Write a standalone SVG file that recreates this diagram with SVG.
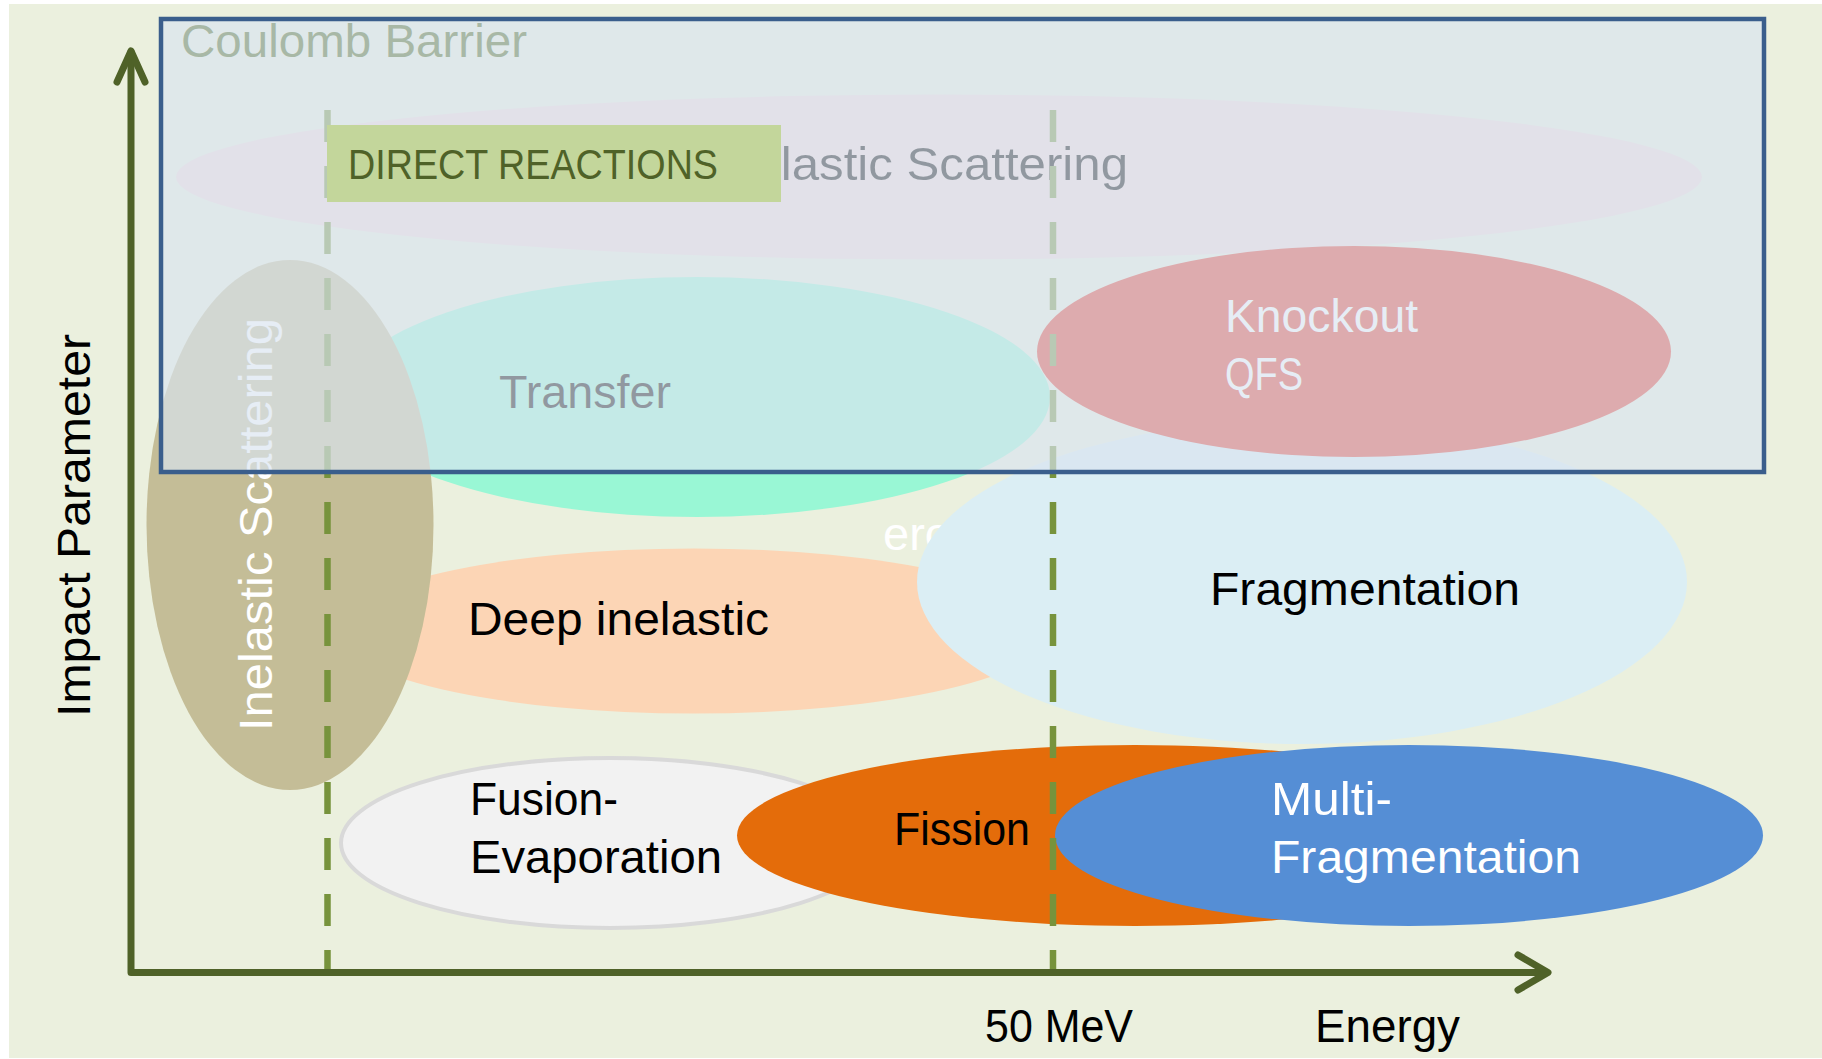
<svg xmlns="http://www.w3.org/2000/svg" width="1822" height="1059" viewBox="0 0 1822 1059">
<defs>
<style>
text{font-family:"Liberation Sans",Arial,sans-serif;}
.t{font-size:47px;fill:#000;}
.w{font-size:47px;fill:#fff;}
.axis{stroke:#4F6228;stroke-width:7;fill:none;stroke-linecap:round;stroke-linejoin:round;}
.dash{stroke:#77933C;stroke-width:6.5;stroke-dasharray:32 24;fill:none;}
</style>
</defs>
<rect x="0" y="0" width="1822" height="1059" fill="#ffffff"/>
<rect x="9" y="4" width="1813" height="1054" fill="#EBF0DE"/>

<g id="elastic-scattering">
<ellipse cx="939" cy="177" rx="763" ry="82.5" fill="#F2DCDB"/>
<text class="t" x="748" y="180" font-size="46" textLength="380" lengthAdjust="spacingAndGlyphs">Elastic Scattering</text>
</g>

<g id="transfer">
<ellipse cx="697" cy="397" rx="353" ry="120" fill="#99F7D5"/>
<text class="t" x="499" y="408" textLength="172" lengthAdjust="spacingAndGlyphs">Transfer</text>
</g>

<g id="deep-inelastic">
<ellipse cx="694" cy="631" rx="357" ry="82.5" fill="#FCD5B5"/>
<text class="t" x="468" y="635" font-size="48" textLength="301" lengthAdjust="spacingAndGlyphs">Deep inelastic</text>
</g>

<text class="w" x="883" y="550" font-size="48">ero</text>

<g id="fragmentation">
<ellipse cx="1302" cy="582" rx="385" ry="162" fill="#DBEEF4"/>
<text class="t" x="1210" y="605" font-size="46" textLength="310" lengthAdjust="spacingAndGlyphs">Fragmentation</text>
</g>

<g id="knockout-qfs">
<ellipse cx="1354" cy="351.5" rx="317" ry="105.5" fill="#E5392A"/>
<text class="w" x="1225" y="332" textLength="193" lengthAdjust="spacingAndGlyphs">Knockout</text>
<text class="w" x="1225" y="390" textLength="78" lengthAdjust="spacingAndGlyphs">QFS</text>
</g>

<g id="fusion-evaporation">
<ellipse cx="610" cy="843" rx="269" ry="85" fill="#F2F2F2" stroke="#D9D9D9" stroke-width="4"/>
<text class="t" x="470" y="815" font-size="45" textLength="148" lengthAdjust="spacingAndGlyphs">Fusion-</text>
<text class="t" x="470" y="873" font-size="45" textLength="252" lengthAdjust="spacingAndGlyphs">Evaporation</text>
</g>

<g id="fission">
<ellipse cx="1135" cy="835.5" rx="398" ry="90.5" fill="#E46C0A"/>
<text class="t" x="894" y="845" font-size="45" textLength="136" lengthAdjust="spacingAndGlyphs">Fission</text>
</g>

<g id="multi-fragmentation">
<ellipse cx="1409" cy="835.5" rx="354" ry="90.5" fill="#558ED5"/>
<text class="w" x="1271" y="815" font-size="45" textLength="121" lengthAdjust="spacingAndGlyphs">Multi-</text>
<text class="w" x="1271" y="873" font-size="45" textLength="310" lengthAdjust="spacingAndGlyphs">Fragmentation</text>
</g>

<g id="inelastic-scattering">
<ellipse cx="290" cy="525" rx="143.5" ry="265" fill="#C4BD97"/>
<text class="w" transform="translate(272,731) rotate(-90)" x="0" y="0" font-size="52" textLength="413" lengthAdjust="spacingAndGlyphs">Inelastic Scattering</text>
</g>

<g id="connectors">
<line class="dash" x1="327.5" y1="110" x2="327.5" y2="971"/>
<line class="dash" x1="1053" y1="110" x2="1053" y2="971"/>
<polyline class="axis" points="131,52 131,972.5 1546,972.5"/>
<polyline class="axis" points="117,82 131,51 145,82"/>
<polyline class="axis" points="1518,955 1548,972.5 1518,990"/>
</g>

<g id="coulomb-barrier">
<rect x="161" y="19" width="1603" height="453" fill="#D9E4F0" fill-opacity="0.667" stroke="#3A5E8C" stroke-width="4.5"/>
<text x="181" y="57" font-size="47" fill="#A8B8A6" textLength="346" lengthAdjust="spacingAndGlyphs">Coulomb Barrier</text>
</g>

<g id="direct-reactions">
<rect x="327" y="125" width="454" height="77" fill="#C3D69B"/>
<text x="348" y="179" font-size="42" fill="#4F6228" textLength="370" lengthAdjust="spacingAndGlyphs">DIRECT REACTIONS</text>
</g>

<g id="axis-labels">
<text class="t" transform="translate(90,717) rotate(-90)" x="0" y="0" font-size="50" textLength="383" lengthAdjust="spacingAndGlyphs">Impact Parameter</text>
<text class="t" x="985" y="1042" font-size="46" textLength="148" lengthAdjust="spacingAndGlyphs">50 MeV</text>
<text class="t" x="1315" y="1042" font-size="46" textLength="145" lengthAdjust="spacingAndGlyphs">Energy</text>
</g>
</svg>
